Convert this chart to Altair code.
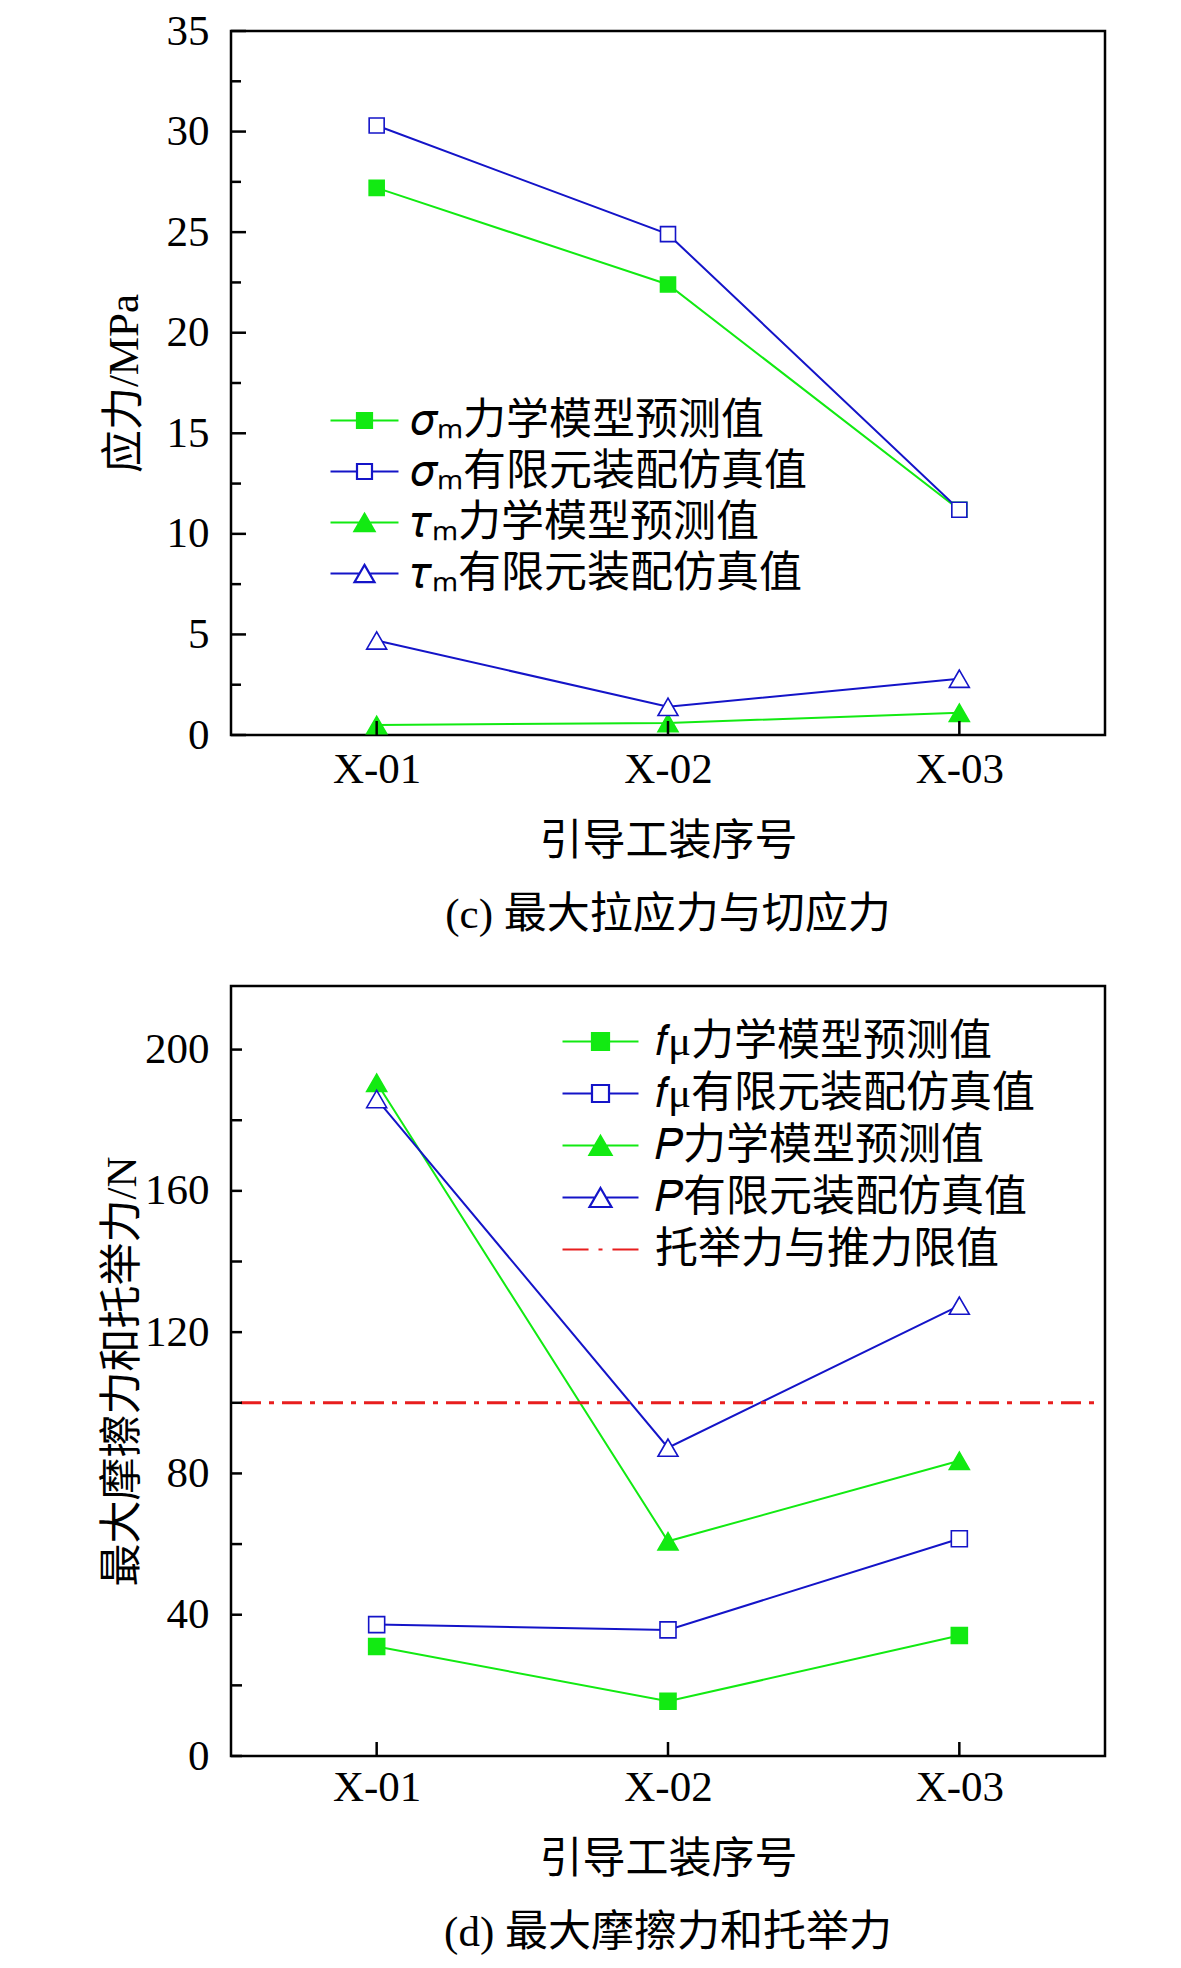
import altair as alt
import pandas as pd

# ---------------- data ----------------
cats = ["X-01", "X-02", "X-03"]

# (c) maximum tensile stress and shear stress, MPa
sigma_model = [27.2, 22.4, 11.2]
sigma_fe = [30.3, 24.9, 11.2]
tau_model = [0.5, 0.6, 1.1]
tau_fe = [4.7, 1.4, 2.8]
names_c = ["𝜎ₘ力学模型预测值", "𝜎ₘ有限元装配仿真值", "𝜏ₘ力学模型预测值", "𝜏ₘ有限元装配仿真值"]
yticks_c = [0, 5, 10, 15, 20, 25, 30, 35]
yminor_c = [2.5, 7.5, 12.5, 17.5, 22.5, 27.5, 32.5]

# (d) maximum friction force and lifting force, N
f_model = [31.0, 15.5, 34.1]
f_fe = [37.2, 35.7, 61.5]
p_model = [190.6, 60.8, 83.6]
p_fe = [186.0, 87.3, 127.5]
limit = [100]
names_d = ["𝑓μ力学模型预测值", "𝑓μ有限元装配仿真值", "𝑃力学模型预测值", "𝑃有限元装配仿真值", "托举力与推力限值"]
yticks_d = [0, 40, 80, 120, 160, 200]
yminor_d = [20, 60, 100, 140, 180]

# ---------------- style ----------------
GREEN = "#12ea12"
BLUE = "#1414c8"
RED = "#e81e1e"
FONT = "Times New Roman, Liberation Serif, Noto Sans CJK SC, serif"
FS = 43
W = 874


def series_df(values_list, names, colors, fills, shapes, sizes):
    rows = []
    for vals, nm, c, f, s, z in zip(values_list, names, colors, fills, shapes, sizes):
        for cat, v in zip(cats, vals):
            rows.append({"series": nm, "cat": cat, "val": v, "col": c,
                         "fillc": f, "shp": s, "sz": z})
    return pd.DataFrame(rows)


def legend_paths(u_line, u_sq, u_tw, u_th):
    sq = (f"M{-u_line},0H{-u_sq}M{u_sq},0H{u_line}"
          f"M{-u_sq},{-u_sq}H{u_sq}V{u_sq}H{-u_sq}Z")
    tri = (f"M{-u_line},0H{-u_tw/2:.3f}M{u_tw/2:.3f},0H{u_line}"
           f"M0,{-u_th}L{u_tw},{u_th}H{-u_tw}Z")
    return sq, tri


def panel(df, key, ydomain, yt_major, yt_minor, ytitle, caption, H, tick_len,
          ytitle_pad, leg_names, leg_colors, leg_fills, leg_paths,
          legx, legy, leg_label_off, leg_row_pad, xlab_pad, limit_vals=None):
    xscale = alt.Scale(type="point", domain=cats, padding=0.5)
    yscale = alt.Scale(domain=ydomain, nice=False, zero=True)

    xaxis = alt.Axis(ticks=False, domain=False, grid=False, labelAngle=0,
                     labelPadding=xlab_pad, title="引导工装序号", titlePadding=29)
    yaxis = alt.Axis(values=yt_major, ticks=False, domain=False, grid=False,
                     labelPadding=22, title=ytitle, titlePadding=ytitle_pad)

    def X(field):
        return alt.X(field, scale=xscale, axis=xaxis, sort=cats)

    def Y(field):
        return alt.Y(field, scale=yscale, axis=yaxis)

    base = alt.Chart(df)
    lines = base.mark_line(strokeWidth=2).encode(
        x=X("cat:N"), y=Y("val:Q"),
        detail="series:N",
        stroke=alt.Stroke("col:N", scale=None),
    )
    points = base.mark_point(opacity=1, strokeWidth=1.6).encode(
        x=X("cat:N"), y=Y("val:Q"),
        shape=alt.Shape("shp:N", scale=None),
        stroke=alt.Stroke("col:N", scale=None),
        fill=alt.Fill("fillc:N", scale=None),
        size=alt.Size("sz:Q", scale=None),
    )

    maj = alt.Chart(pd.DataFrame({"v": yt_major})).mark_rule(
        color="black", strokeWidth=2.5).encode(
        y=Y("v:Q"), x=alt.value(0), x2=alt.value(tick_len[0]))
    mnr = alt.Chart(pd.DataFrame({"v": yt_minor})).mark_rule(
        color="black", strokeWidth=2.5).encode(
        y=Y("v:Q"), x=alt.value(0), x2=alt.value(tick_len[1]))
    xt = alt.Chart(pd.DataFrame({"cat": cats})).mark_rule(
        color="black", strokeWidth=2.5).encode(
        x=X("cat:N"), y=alt.value(H), y2=alt.value(H - 14))

    fld = f"{key}:N"
    leg = alt.Legend(orient="none", legendX=legx, legendY=legy, title=None,
                     labelFont=FONT, labelFontSize=FS, labelColor="black",
                     labelLimit=2000, symbolSize=2116, symbolStrokeWidth=2.2,
                     rowPadding=leg_row_pad, labelOffset=leg_label_off, padding=0)
    legend_layer = alt.Chart(pd.DataFrame({key: leg_names})).mark_point(
        opacity=1).transform_filter("false").encode(
        shape=alt.Shape(fld, scale=alt.Scale(domain=leg_names, range=leg_paths),
                        legend=leg),
        stroke=alt.Stroke(fld, scale=alt.Scale(domain=leg_names, range=leg_colors),
                          legend=leg),
        fill=alt.Fill(fld, scale=alt.Scale(domain=leg_names, range=leg_fills),
                      legend=leg),
    )

    layers = [lines]
    if limit_vals is not None:
        lim = alt.Chart(pd.DataFrame({"v": limit_vals})).mark_rule(
            color=RED, strokeWidth=3, strokeDash=[20, 8, 5, 8]).encode(
            y=Y("v:Q"), x=alt.value(10), x2=alt.value(W - 10))
        layers.append(lim)
    layers += [points, maj, mnr, xt, legend_layer]

    return alt.layer(*layers).properties(
        width=W, height=H,
        title=alt.TitleParams(caption, orient="bottom", anchor="middle",
                              frame="group", fontSize=FS, font=FONT,
                              fontWeight="normal", color="black", offset=31),
    )


# ---- panel (c)
df_c = series_df([sigma_model, sigma_fe, tau_model, tau_fe], names_c,
                 [GREEN, BLUE, GREEN, BLUE], [GREEN, "white", GREEN, "white"],
                 ["square", "square", "triangle-up", "triangle-up"],
                 [225, 225, 400, 400])
sq_c, tri_c = legend_paths(1.478, 0.326, 0.435, 0.377)
chart_c = panel(df_c, "name_c", [0, 35], yticks_c, yminor_c, "应力/MPa",
                "(c) 最大拉应力与切应力", 704, (15, 10), 20,
                names_c, [GREEN, BLUE, GREEN, BLUE],
                [GREEN, "white", GREEN, "white"], [sq_c, sq_c, tri_c, tri_c],
                109, 365, 22, 4, 13)

# ---- panel (d)
df_d = series_df([f_model, f_fe, p_model, p_fe], names_d[:4],
                 [GREEN, BLUE, GREEN, BLUE], [GREEN, "white", GREEN, "white"],
                 ["square", "square", "triangle-up", "triangle-up"],
                 [256, 256, 400, 400])
sq_d, tri_d = legend_paths(1.652, 0.37, 0.478, 0.413)
dash_d = "M-1.652,0H-0.52M-0.087,0H0.087M0.52,0H1.652"
chart_d = panel(df_d, "name_d", [0, 218], yticks_d, yminor_d, "最大摩擦力和托举力/N",
                "(d) 最大摩擦力和托举力", 770, (11, 11), 0,
                names_d, [GREEN, BLUE, GREEN, BLUE, RED],
                [GREEN, "white", GREEN, "white", "transparent"],
                [sq_d, sq_d, tri_d, tri_d, dash_d],
                345, 31, 30, 5, 10, limit_vals=limit)

chart = alt.vconcat(chart_c, chart_d, spacing=45).resolve_scale(
    shape="independent", stroke="independent", fill="independent"
).resolve_legend(
    shape="independent", stroke="independent", fill="independent"
).properties(
    padding={"left": 92, "top": 0, "right": 5, "bottom": 0},
    background="white",
).configure_view(stroke="black", strokeWidth=2.5).configure_axis(
    labelFont=FONT, labelFontSize=FS, labelColor="black",
    titleFont=FONT, titleFontSize=FS, titleFontWeight="normal", titleColor="black"
)

chart.save("out.html", embed_options={"renderer": "svg", "actions": False})
